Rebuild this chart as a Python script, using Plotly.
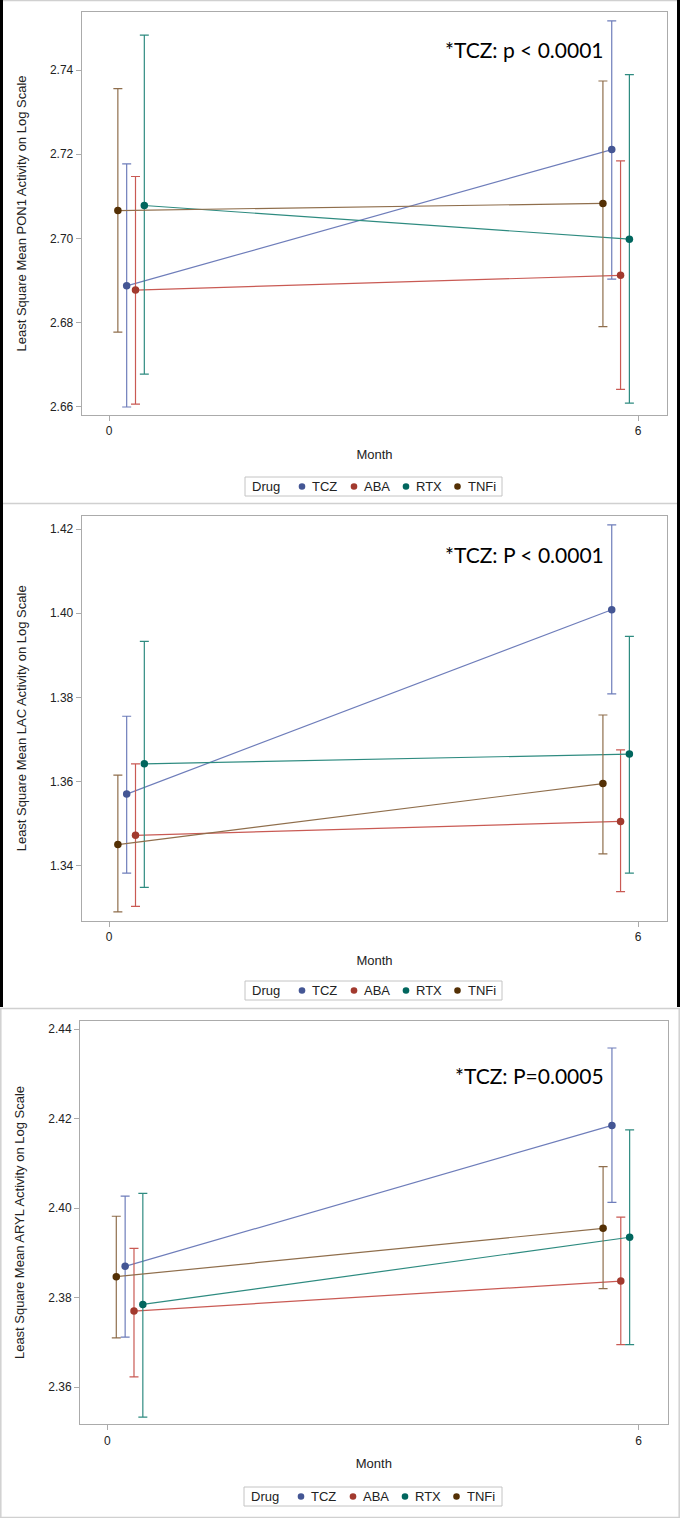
import plotly.graph_objects as go

W, H = 680, 1518

drugs = ["TCZ", "ABA", "RTX", "TNFi"]
months = [0, 6]

# ---- Panel 1: PON1 ----
pon1_mean_m0 = [2.6887, 2.6877, 2.7078, 2.7066]
pon1_lo_m0 = [2.6599, 2.6606, 2.6677, 2.6777]
pon1_hi_m0 = [2.7177, 2.7147, 2.7483, 2.7356]
pon1_mean_m6 = [2.7211, 2.6912, 2.6998, 2.7083]
pon1_lo_m6 = [2.6903, 2.6641, 2.6608, 2.6790]
pon1_hi_m6 = [2.7517, 2.7184, 2.7389, 2.7374]

# ---- Panel 2: LAC ----
lac_mean_m0 = [1.3570, 1.3472, 1.3642, 1.3450]
lac_lo_m0 = [1.3382, 1.3303, 1.3348, 1.3290]
lac_hi_m0 = [1.3755, 1.3642, 1.3933, 1.3615]
lac_mean_m6 = [1.4008, 1.3505, 1.3665, 1.3595]
lac_lo_m6 = [1.3808, 1.3338, 1.3382, 1.3428]
lac_hi_m6 = [1.4210, 1.3675, 1.3945, 1.3758]

# ---- Panel 3: ARYL ----
aryl_mean_m0 = [2.3870, 2.3770, 2.3785, 2.3847]
aryl_lo_m0 = [2.3712, 2.3623, 2.3533, 2.3710]
aryl_hi_m0 = [2.4027, 2.3910, 2.4033, 2.3982]
aryl_mean_m6 = [2.4185, 2.3837, 2.3935, 2.3955]
aryl_lo_m6 = [2.4013, 2.3695, 2.3695, 2.3820]
aryl_hi_m6 = [2.4358, 2.3980, 2.4175, 2.4093]

y_titles = [
    "Least Square Mean PON1 Activity on Log Scale",
    "Least Square Mean LAC Activity on Log Scale",
    "Least Square Mean ARYL Activity on Log Scale",
]
p_texts = ["*TCZ: p < 0.0001", "*TCZ: P < 0.0001", "*TCZ: P=0.0005"]

# ---- styling (not data) ----
dodge_m0 = [0.2, 0.3, 0.4, 0.1]
dodge_m6 = [-0.3, -0.2, -0.1, -0.4]
line_colors = ["#6E7DBA", "#C95A54", "#2E8B80", "#8F6E4C"]
marker_colors = ["#445694", "#A23A2E", "#01665E", "#543005"]
frame_grey = "#ABABAB"
text_col = "#222222"

panels = [
    dict(data=(pon1_mean_m0, pon1_lo_m0, pon1_hi_m0, pon1_mean_m6, pon1_lo_m6, pon1_hi_m6),
         frame=(81.7, 667.3, 12.0, 415.0), yrange=(2.6580, 2.7538),
         ptext_y=50, leg=(245, 502, 477, 496)),
    dict(data=(lac_mean_m0, lac_lo_m0, lac_hi_m0, lac_mean_m6, lac_lo_m6, lac_hi_m6),
         frame=(81.7, 667.3, 516.0, 920.7), yrange=(1.3269, 1.4231),
         ptext_y=554, leg=(245, 502, 981, 1000)),
    dict(data=(aryl_mean_m0, aryl_lo_m0, aryl_hi_m0, aryl_mean_m6, aryl_lo_m6, aryl_hi_m6),
         frame=(80.0, 667.7, 1020.7, 1424.3), yrange=(2.3517, 2.4419),
         ptext_y=1075, leg=(244, 502, 1487, 1506)),
]

fig = go.Figure()
shapes = []
annotations = []


def px_x(v):
    return v / W


def px_y(v):
    return 1 - v / H


for pi, p in enumerate(panels):
    mean0, lo0, hi0, mean6, lo6, hi6 = p["data"]
    sfx = "" if pi == 0 else str(pi + 1)
    for k, d in enumerate(drugs):
        ys = [mean0[k], mean6[k]]
        xs = [months[0] + dodge_m0[k], months[1] + dodge_m6[k]]
        fig.add_trace(go.Scatter(
            x=xs, y=ys, name=d, mode="lines+markers",
            xaxis="x" + sfx, yaxis="y" + sfx, showlegend=False,
            line=dict(color=line_colors[k], width=1.2),
            marker=dict(color=marker_colors[k], size=7.5),
            error_y=dict(type="data", symmetric=False,
                         array=[hi0[k] - mean0[k], hi6[k] - mean6[k]],
                         arrayminus=[mean0[k] - lo0[k], mean6[k] - lo6[k]],
                         color=line_colors[k], thickness=1.2, width=4.5),
        ))
    fl, fr, ft, fb = p["frame"]
    xa = dict(domain=[px_x(fl), px_x(fr)], range=[-0.31, 6.33], tickvals=months,
              ticks="outside", ticklen=5, tickcolor=frame_grey, showline=True,
              linecolor=frame_grey, linewidth=1, mirror=True, showgrid=False,
              zeroline=False, anchor="y" + sfx,
              tickfont=dict(family="Liberation Sans, Arial", size=12, color=text_col),
              title=dict(text="Month", standoff=12,
                         font=dict(family="Liberation Sans, Arial", size=13, color=text_col)))
    ya = dict(domain=[px_y(fb), px_y(ft)], range=list(p["yrange"]), dtick=0.02, tick0=0,
              tickformat=".2f", ticks="outside", ticklen=5, tickcolor=frame_grey,
              showline=True, linecolor=frame_grey, linewidth=1, mirror=True,
              showgrid=False, zeroline=False, anchor="x" + sfx,
              tickfont=dict(family="Liberation Sans, Arial", size=12, color=text_col),
              title=dict(text=y_titles[pi], standoff=20,
                         font=dict(family="Liberation Sans, Arial", size=13, color=text_col)))
    fig.update_layout(**{"xaxis" + sfx: xa, "yaxis" + sfx: ya})

    annotations.append(dict(text=p_texts[pi], xref="paper", yref="paper",
                            x=px_x(606), y=px_y(p["ptext_y"]), xanchor="right",
                            yanchor="middle", showarrow=False,
                            font=dict(family="Lato", size=21, color="#000000")))

    # legend box
    lx0, lx1, ly0, ly1 = p["leg"]
    shapes.append(dict(type="rect", xref="paper", yref="paper", x0=px_x(lx0), x1=px_x(lx1),
                       y0=px_y(ly1), y1=px_y(ly0), line=dict(color="#C4C4C4", width=1),
                       fillcolor="white", layer="below"))
    cy = (ly0 + ly1) / 2
    annotations.append(dict(text="Drug", xref="paper", yref="paper", x=px_x(lx0 + 5),
                            y=px_y(cy), xanchor="left", yanchor="middle", showarrow=False,
                            font=dict(family="Liberation Sans, Arial", size=13, color=text_col)))
    dot_x = [lx0 + 57, lx0 + 109, lx0 + 161, lx0 + 212.5]
    for k, d in enumerate(drugs):
        r = 3.3
        shapes.append(dict(type="circle", xref="paper", yref="paper",
                           x0=px_x(dot_x[k] - r), x1=px_x(dot_x[k] + r),
                           y0=px_y(cy + r), y1=px_y(cy - r),
                           fillcolor=marker_colors[k], line=dict(width=0)))
        annotations.append(dict(text=d, xref="paper", yref="paper", x=px_x(dot_x[k] + 8),
                                y=px_y(cy), xanchor="left", yanchor="middle", showarrow=False,
                                font=dict(family="Liberation Sans, Arial", size=13, color=text_col)))

# outer panel borders
grey_line = "#D0D0D0"
for yy in [0.5, 503.5, 1008.5, 1517.5]:
    shapes.append(dict(type="line", xref="paper", yref="paper", x0=0, x1=1,
                       y0=px_y(yy), y1=px_y(yy), line=dict(color=grey_line, width=1.5)))
shapes.append(dict(type="line", xref="paper", yref="paper", x0=px_x(0.8), x1=px_x(0.8),
                   y0=px_y(1008), y1=px_y(1518), line=dict(color=grey_line, width=1.5)))
shapes.append(dict(type="line", xref="paper", yref="paper", x0=px_x(679.2), x1=px_x(679.2),
                   y0=px_y(1008), y1=px_y(1518), line=dict(color=grey_line, width=1.5)))
shapes.append(dict(type="rect", xref="paper", yref="paper", x0=0, x1=px_x(3),
                   y0=px_y(1007), y1=1, fillcolor="#000000", line=dict(width=0)))
shapes.append(dict(type="rect", xref="paper", yref="paper", x0=px_x(677), x1=1,
                   y0=px_y(1007), y1=1, fillcolor="#000000", line=dict(width=0)))

fig.update_layout(width=W, height=H, margin=dict(l=0, r=0, t=0, b=0),
                  paper_bgcolor="white", plot_bgcolor="white", showlegend=False,
                  shapes=shapes, annotations=annotations)

fig.write_html("out.html", config={"displayModeBar": False},
               post_script="document.body.style.margin='0';document.body.style.overflow='hidden';")
